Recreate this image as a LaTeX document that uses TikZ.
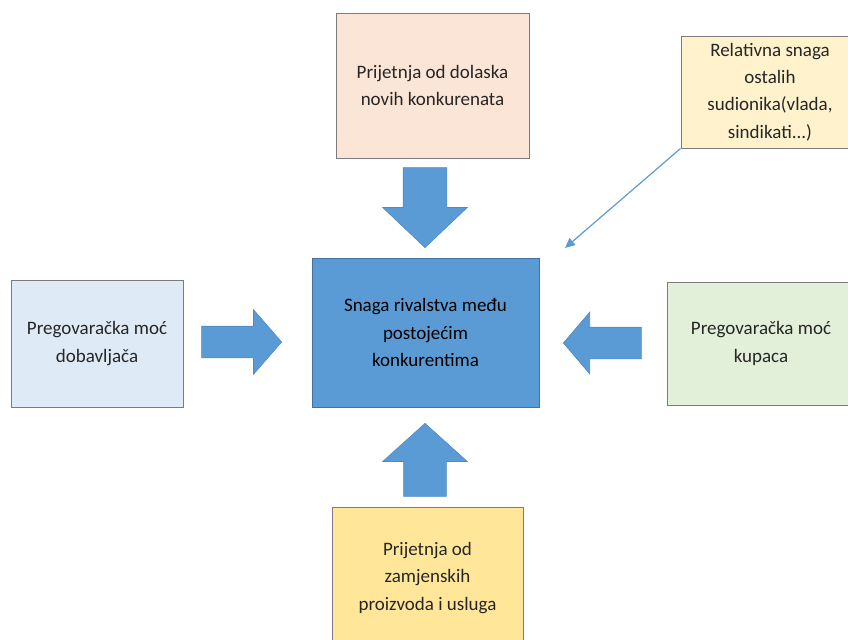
\documentclass[tikz,border=0pt]{standalone}
\usepackage{fontspec}
\setmainfont{Carlito}
\usetikzlibrary{shapes.arrows,arrows.meta}

\definecolor{boxedge}{HTML}{7C7C7C}
\definecolor{arrowblue}{HTML}{5B9BD5}
\definecolor{arrowedge}{HTML}{4E89C2}
\definecolor{centeredge}{HTML}{41719C}
\definecolor{peach}{HTML}{FBE5D6}
\definecolor{cream}{HTML}{FFF2CC}
\definecolor{paleblue}{HTML}{DEEBF7}
\definecolor{palegreen}{HTML}{E2F0D9}
\definecolor{gold}{HTML}{FFE699}
\definecolor{textgray}{HTML}{262626}

\begin{document}
\begin{tikzpicture}[x=0.5pt,y=-0.5pt,
    forcebox/.style={draw=boxedge, line width=0.5pt, align=center, inner sep=0pt,
        font=\fontsize{9.5}{13.6}\selectfont, text=textgray},
    bigarrow/.style={single arrow, draw=arrowedge, line width=0.3pt, fill=arrowblue,
        inner sep=0pt, anchor=tip}
]
\useasboundingbox (0,0) rectangle (848,639);
\clip (0,0) rectangle (848,639);

    % boxes
    \node[forcebox, fill=arrowblue, draw=centeredge, text=black,
        minimum width=113.5pt, minimum height=74.5pt] (rival) at (425.5,332.5)
        {Snaga rivalstva među\\postojećim\\konkurentima};
    \node[forcebox, fill=peach, minimum width=96.5pt, minimum height=72.5pt] (novi) at (432.5,85.5)
        {Prijetnja od dolaska\\novih konkurenata};
    \node[forcebox, fill=cream, minimum width=89pt, minimum height=56pt] (ostali) at (770,92)
        {Relativna snaga\\ostalih\\sudionika(vlada,\\sindikati...)};
    \node[forcebox, fill=paleblue, minimum width=86pt, minimum height=63.5pt] (dobav) at (97,343.5)
        {Pregovaračka moć\\dobavljača};
    \node[forcebox, fill=palegreen, minimum width=94pt, minimum height=61.5pt] (kupci) at (761,343.5)
        {Pregovaračka moć\\kupaca};
    \node[forcebox, fill=gold, minimum width=95.5pt, minimum height=71pt] (zamjena) at (427.5,578)
        {Prijetnja od\\zamjenskih\\proizvoda i usluga};

    % block arrows
    \node[bigarrow, shape border rotate=270, inner xsep=10.75pt, minimum height=40pt, minimum width=42pt,
        single arrow head extend=10.25pt, single arrow tip angle=93] (arrNovi) at (425,248) {};
    \node[bigarrow, shape border rotate=90, inner xsep=10.5pt, minimum height=36.5pt, minimum width=42pt,
        single arrow head extend=10.5pt, single arrow tip angle=96] (arrZamjena) at (425,423) {};
    \node[bigarrow, inner ysep=7.75pt, minimum height=40pt, minimum width=32pt,
        single arrow head extend=8.25pt, single arrow tip angle=98] (arrDobav) at (282,342) {};
    \node[bigarrow, shape border rotate=180, inner ysep=7.75pt, minimum height=39pt, minimum width=30.5pt,
        single arrow head extend=7.5pt, single arrow tip angle=99] (arrKupci) at (563,343) {};

    % thin arrow
    \coordinate (ostaliTip) at (565,248);
    \draw[arrowblue, line width=0.6pt, -{Triangle[length=5pt,width=4.5pt]}]
        (ostali.south west) -- (ostaliTip);
\end{tikzpicture}
\end{document}
